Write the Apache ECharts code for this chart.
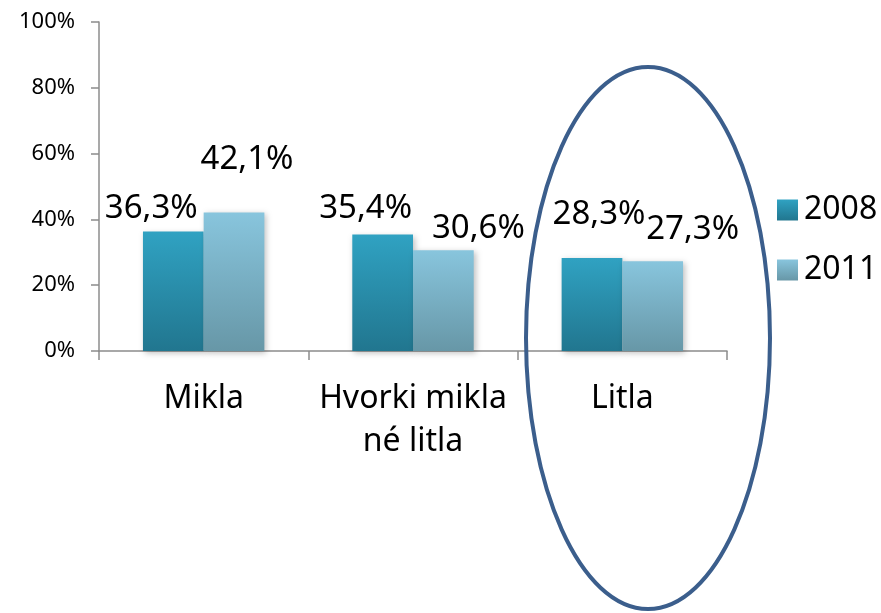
<!DOCTYPE html>
<html>
<head>
<meta charset="utf-8">
<script src="https://cdn.jsdelivr.net/npm/echarts@6/dist/echarts.min.js"></script>
<style>
  html, body { margin: 0; padding: 0; background: #fff; }
  #main { width: 881px; height: 613px; }
</style>
</head>
<body>
<div id="main"></div>
<script>
// data
var categories = ['Mikla', 'Hvorki mikla\nné litla', 'Litla']
var seriesNames = ['2008', '2011']
var values2008 = [36.3, 35.4, 28.3]
var values2011 = [42.1, 30.6, 27.3]
var yTicks = [0, 20, 40, 60, 80, 100]

// label nudges, copied from where the original puts them
var offsets2008 = [[-22, -1], [-17, -4], [7, -22]]
var offsets2011 = [[13, -31], [35, 0], [40, -10]]

var font = '"Noto Sans"'

function fmt(v) {
  return v.toFixed(1).replace('.', ',') + '%'
}

function grad(top, bottom) {
  return new echarts.graphic.LinearGradient(0, 0, 0, 1, [
    { offset: 0, color: top },
    { offset: 1, color: bottom }
  ])
}

function makeData(values, offsets) {
  return values.map(function (v, i) {
    return { value: v, label: { offset: offsets[i] } }
  })
}

var chart = echarts.init(document.getElementById('main'))

var option = {
  animation: false,
  grid: { left: 99, right: 154, top: 22, bottom: 262, outerBoundsMode: 'none' },
  legend: {
    orient: 'vertical',
    left: 772,
    top: 189,
    itemWidth: 21,
    itemHeight: 21,
    itemGap: 28,
    icon: 'rect',
    textStyle: { fontSize: 32, color: '#000', fontFamily: font, padding: [0, 0, 0, 1] },
    data: seriesNames
  },
  xAxis: {
    type: 'category',
    data: categories,
    axisLine: { lineStyle: { color: '#8c8c8c', width: 1.5 } },
    axisTick: { show: true, length: 9, lineStyle: { color: '#8c8c8c', width: 1.5 } },
    axisLabel: { color: '#000', fontSize: 32, margin: 26, lineHeight: 43, fontFamily: font, interval: 0 }
  },
  yAxis: {
    type: 'value',
    min: 0,
    max: 100,
    interval: 20,
    splitLine: { show: false },
    axisLine: { show: true, lineStyle: { color: '#8c8c8c', width: 1.5 } },
    axisTick: { show: true, length: 8, lineStyle: { color: '#8c8c8c', width: 1.5 } },
    axisLabel: {
      margin: 24, color: '#000', fontSize: 22, fontFamily: font,
      formatter: function (v) { return yTicks.indexOf(v) >= 0 ? v + '%' : '' }
    }
  },
  series: [{
    name: seriesNames[0],
    type: 'bar',
    barWidth: '29%',
    barGap: '0%',
    data: makeData(values2008, offsets2008),
    itemStyle: {
      color: grad('#30a2c2', '#21768f'),
      shadowColor: 'rgba(0,0,0,0.25)', shadowBlur: 6, shadowOffsetX: 2, shadowOffsetY: 2
    },
    label: {
      show: true, position: 'top', distance: 5,
      fontSize: 33, color: '#000', fontFamily: font,
      formatter: function (p) { return fmt(p.value) }
    }
  }, {
    name: seriesNames[1],
    type: 'bar',
    barWidth: '29%',
    barGap: '0%',
    data: makeData(values2011, offsets2011),
    itemStyle: {
      color: grad('#88c5dd', '#6797a7'),
      shadowColor: 'rgba(0,0,0,0.25)', shadowBlur: 6, shadowOffsetX: 2, shadowOffsetY: 2
    },
    label: {
      show: true, position: 'top', distance: 5,
      fontSize: 33, color: '#000', fontFamily: font,
      formatter: function (p) { return fmt(p.value) }
    }
  }],
  graphic: [{
    type: 'ellipse',
    shape: { cx: 648, cy: 338, rx: 122, ry: 271 },
    style: { fill: 'none', stroke: '#3b5e8c', lineWidth: 4 },
    z: 100
  }]
}

chart.setOption(option)
</script>
</body>
</html>
